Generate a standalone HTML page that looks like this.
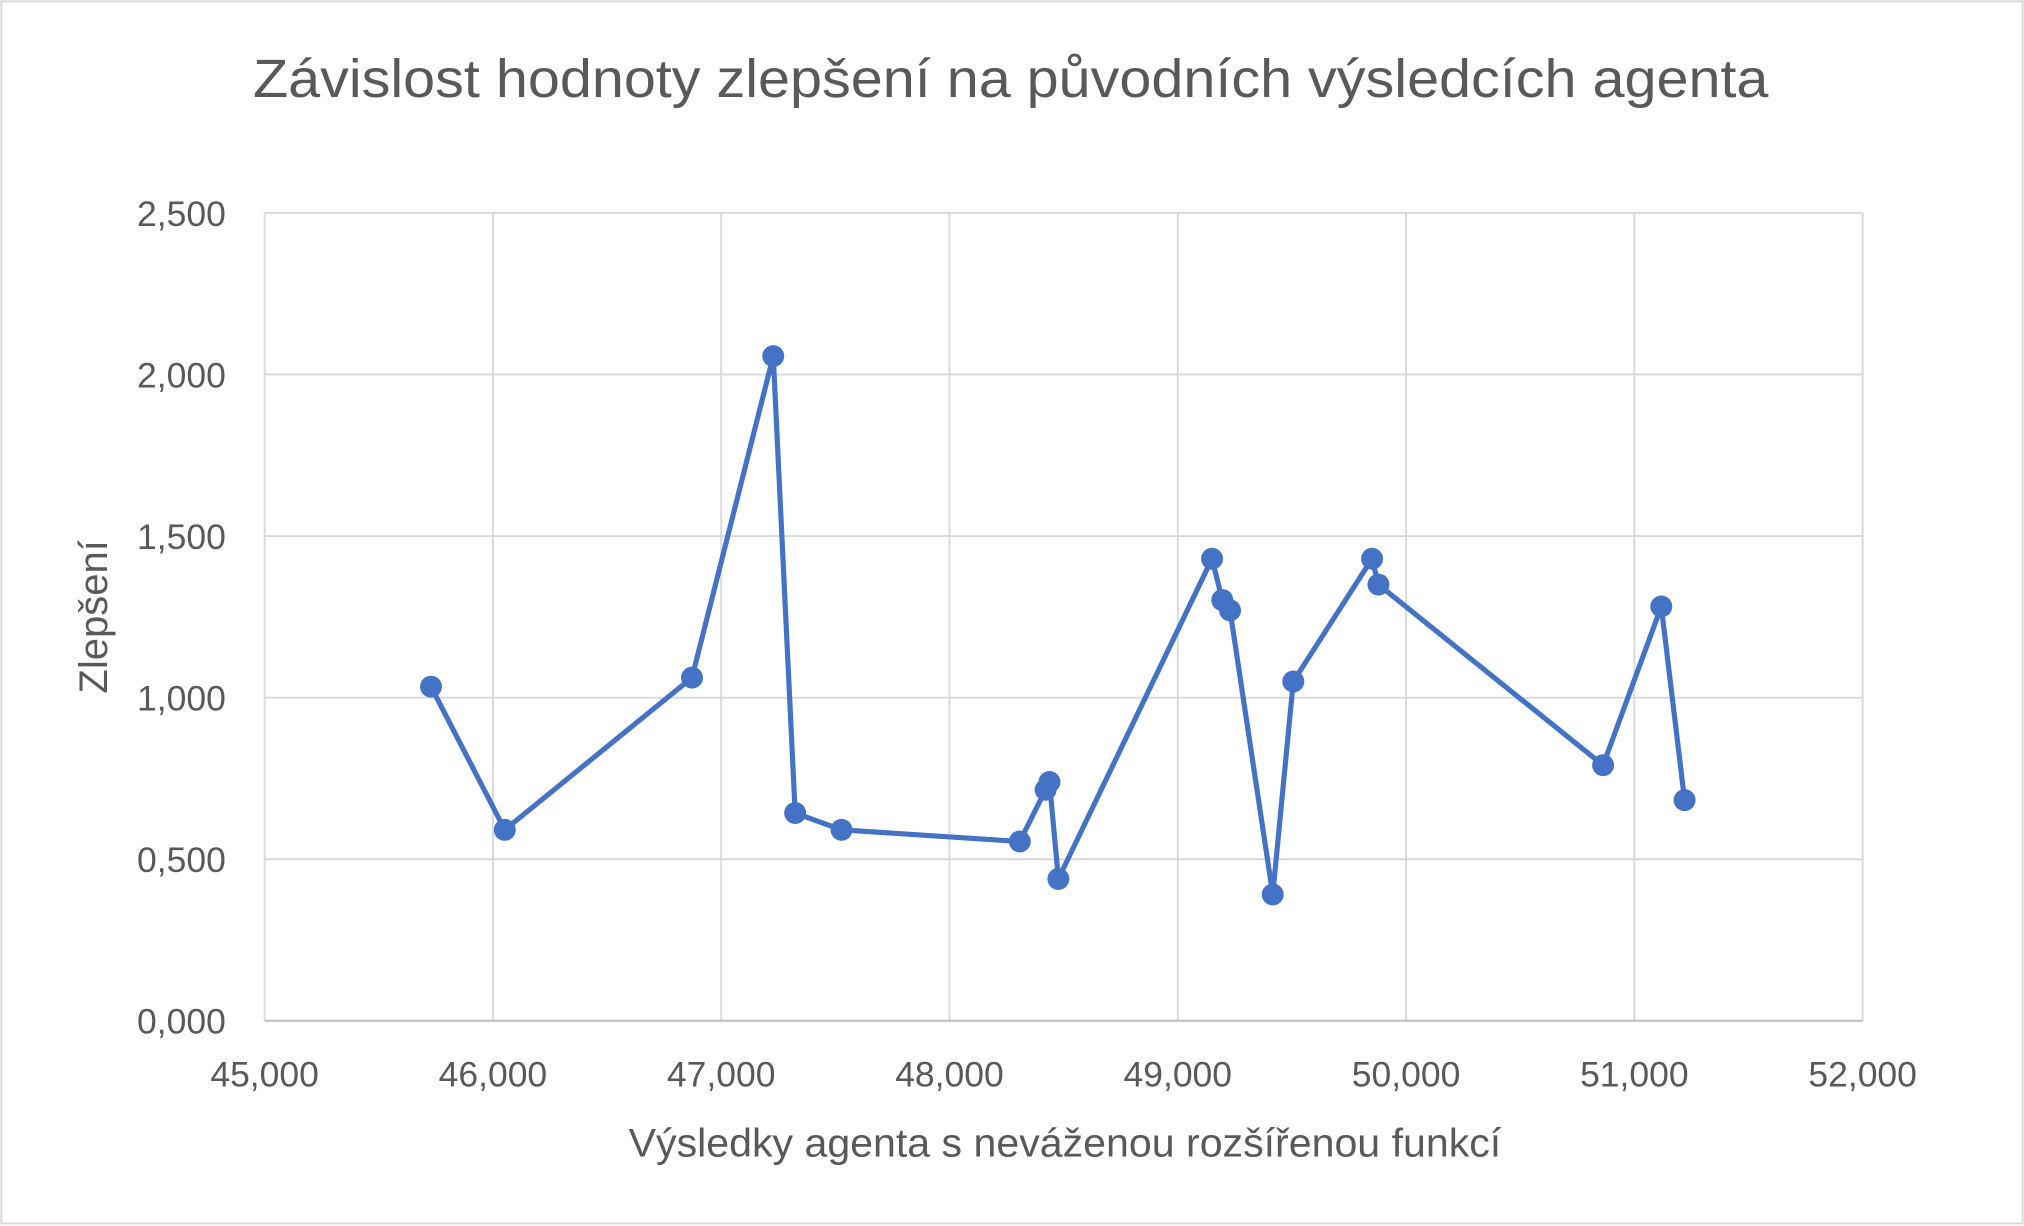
<!DOCTYPE html>
<html><head><meta charset="utf-8"><style>
html,body{margin:0;padding:0;background:#fff;}
svg{display:block;font-family:"Liberation Sans",sans-serif;}
</style></head><body>
<svg id="chart" width="2024" height="1226" viewBox="0 0 1568 950" preserveAspectRatio="none" xmlns="http://www.w3.org/2000/svg">
<rect x="1" y="1" width="1566" height="947" fill="#fff" stroke="#d9d9d9" stroke-width="1.5"/>
<text x="196" y="75" font-size="42" fill="#595959" textLength="1174" lengthAdjust="spacingAndGlyphs">Závislost hodnoty zlepšení na původních výsledcích agenta</text>
<g id="grid"></g>
<g id="ticks"></g>
<g id="series"></g>
<text x="487" y="896" font-size="31" fill="#595959" textLength="676" lengthAdjust="spacingAndGlyphs">Výsledky agenta s neváženou rozšířenou funkcí</text>
<text transform="translate(83,478) rotate(-90)" text-anchor="middle" font-size="31" fill="#595959">Zlepšení</text>
</svg>
<script>
const xValues=[45729,46052,46872,47228,47324,47527,48308,48421,48438,48477,49150,49195,49229,49416,49506,49851,49879,50863,51118,51220];
const yValues=[1.034,0.591,1.062,2.057,0.643,0.591,0.555,0.715,0.739,0.439,1.430,1.302,1.270,0.391,1.050,1.430,1.350,0.791,1.282,0.683];
const xTicks=[45000,46000,47000,48000,49000,50000,51000,52000];
const yTicks=[0,0.5,1,1.5,2,2.5];
const xTickLabels=["45,000","46,000","47,000","48,000","49,000","50,000","51,000","52,000"];
const yTickLabels=["0,000","0,500","1,000","1,500","2,000","2,500"];

const NS="http://www.w3.org/2000/svg";
const X0=205,X1=1443,Y0=791,Y1=165;
function sx(v){return X0+(v-45000)/(52000-45000)*(X1-X0);}
function sy(v){return Y0-(v-0)/(2.5-0)*(Y0-Y1);}
function mk(tag,attrs,parent){const e=document.createElementNS(NS,tag);for(const k in attrs)e.setAttribute(k,attrs[k]);parent.appendChild(e);return e;}
const grid=document.getElementById('grid'),ticks=document.getElementById('ticks'),series=document.getElementById('series');
yTicks.forEach((v,i)=>{
  const l=mk('line',{x1:X0,x2:X1,y1:sy(v),y2:sy(v),stroke:'#d9d9d9','stroke-width':1.5},grid);
  
  
  const t=mk('text',{x:X0-30,y:sy(v)+10,'text-anchor':'end','font-size':27.5,fill:'#595959'},ticks);
  t.textContent=yTickLabels[i];
  
  
});
xTicks.forEach((v,i)=>{
  const l=mk('line',{x1:sx(v),x2:sx(v),y1:Y1,y2:Y0,stroke:'#d9d9d9','stroke-width':1.5},grid);
  
  
  const t=mk('text',{x:sx(v),y:Y0+51,'text-anchor':'middle','font-size':27.5,fill:'#595959'},ticks);
  t.textContent=xTickLabels[i];
  
  
});
const ax=mk('line',{x1:X0,x2:X1,y1:Y0,y2:Y0,stroke:'#bfbfbf','stroke-width':1.5},grid);


const pts=xValues.map((x,i)=>sx(x)+','+sy(yValues[i])).join(' ');
const pl=mk('polyline',{points:pts,fill:'none',stroke:'#4472c4','stroke-width':4,'stroke-linejoin':'round'},series);


xValues.forEach((x,i)=>{
  const c=mk('circle',{cx:sx(x),cy:sy(yValues[i]),r:8.5,fill:'#4472c4'},series);
  
  
});
</script>
</body></html>
